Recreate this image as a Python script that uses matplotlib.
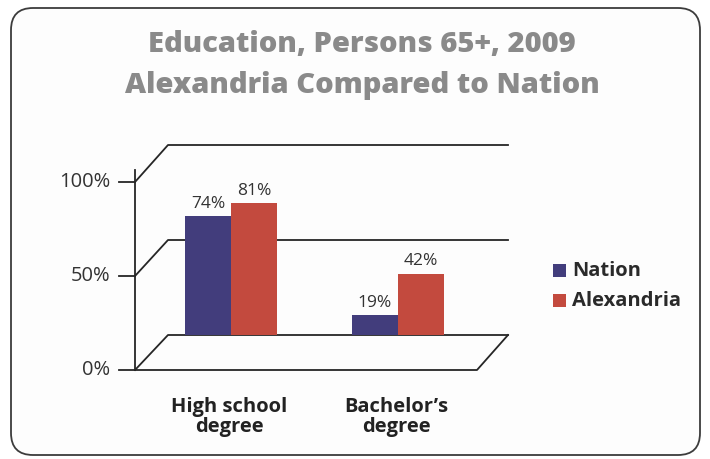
import matplotlib
matplotlib.use("Agg")
import matplotlib.pyplot as plt
from matplotlib.patches import FancyBboxPatch, Rectangle

# Donnees du graphique
categories = ["High school\ndegree", "Bachelor\u2019s\ndegree"]
series = ["Nation", "Alexandria"]
nation = [74, 19]
alexandria = [81, 42]
ticks = [0, 50, 100]
tick_labels = ["0%", "50%", "100%"]

title_1 = "Education, Persons 65+, 2009"
title_2 = "Alexandria Compared to Nation"

C_NATION = "#423d7c"
C_ALEX = "#c34a3e"
C_LINE = "#262626"

W, H = 710, 459
plt.rcParams['font.family'] = ['Open Sans', 'DejaVu Sans']

fig = plt.figure(figsize=(W / 100, H / 100), dpi=100)
fig.patch.set_facecolor("white")

# Axe en pixels pour le cadre "3D"
ax = fig.add_axes([0, 0, 1, 1])
ax.set_xlim(0, W)
ax.set_ylim(H, 0)
ax.axis("off")

# Cadre arrondi
ax.add_patch(FancyBboxPatch((11, 8), 689, 447, boxstyle="round,pad=0,rounding_size=22",
                            fc="#fdfdfd", ec="#3c3c3c", lw=1.3))

# Titre
ax.text(362, 45, title_1, ha="center", va="center", fontsize=21, fontweight="heavy", color="#8a8a8a")
ax.text(362, 85, title_2, ha="center", va="center", fontsize=21, fontweight="heavy", color="#8a8a8a")

# Echelle de l'axe avant et du mur arriere
X_FRONT, X_BACK, X_RIGHT_BACK, X_RIGHT_FRONT = 135, 168, 508, 477
def y_front(v):
    return 370 - v * 1.88

def y_back(v):
    return 335 - v * 1.90

# Axe vertical avant + graduations
ax.plot([X_FRONT, X_FRONT], [y_front(0), y_front(100) - 12], color=C_LINE, lw=1.3)
for t, lab in zip(ticks, tick_labels):
    ax.plot([119, X_FRONT], [y_front(t), y_front(t)], color=C_LINE, lw=1.3)
    ax.text(110, y_front(t), lab, ha="right", va="center", fontsize=14.5, color="#333333")
    # diagonales + lignes du mur arriere
    ax.plot([X_FRONT, X_BACK, X_RIGHT_BACK], [y_front(t), y_back(t), y_back(t)], color=C_LINE, lw=1.3)

# Sol
ax.plot([X_FRONT, X_RIGHT_FRONT, X_RIGHT_BACK], [y_front(0), y_front(0), y_back(0)], color=C_LINE, lw=1.3)

# Legende
for i, (name, col) in enumerate(zip(series, [C_NATION, C_ALEX])):
    yy = 271 + i * 30
    ax.add_patch(Rectangle((553, yy - 7), 13, 13, fc=col, ec="none"))
    ax.text(572, yy, name, ha="left", va="center", fontsize=14.5, fontweight="bold", color="#2a2a2a")

# Etiquettes des categories
for i, cat in enumerate(categories):
    ax.text(229 + i * 167, 417, cat, ha="center", va="center", fontsize=14.5,
            fontweight="bold", color="#222222", linespacing=1.02)

# Axe des barres (base au sol arriere)
px_per_unit = 1.80
v0 = 7.9
ax_b = fig.add_axes([147.5 / W, (H - 335) / H, 334 / W, 180 / H])
ax_b.set_xlim(-0.5, 1.5)
ax_b.set_ylim(v0, v0 + 180 / px_per_unit)
ax_b.patch.set_alpha(0)
ax_b.axis("off")

bw = 0.275
xs = range(len(categories))
b1 = ax_b.bar([x - bw / 2 for x in xs], nation, width=bw, color=C_NATION)
b2 = ax_b.bar([x + bw / 2 for x in xs], alexandria, width=bw, color=C_ALEX)
for bars, vals in [(b1, nation), (b2, alexandria)]:
    for rect, v in zip(bars, vals):
        ax_b.annotate(f"{v}%", (rect.get_x() + rect.get_width() / 2, v), xytext=(0, 9),
                      textcoords="offset points", ha="center", va="center",
                      fontsize=12.5, color="#333333")

fig.savefig("out.png", dpi=100)
